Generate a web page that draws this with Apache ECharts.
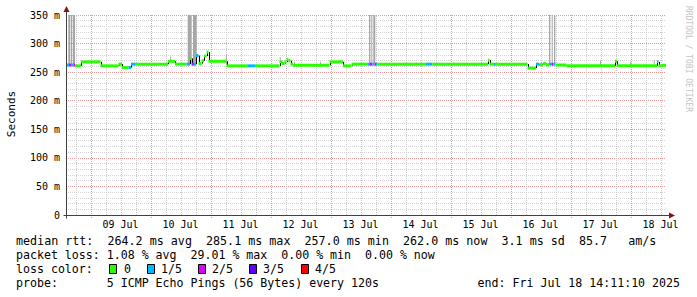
<!DOCTYPE html>
<html><head><meta charset="utf-8">
<script src="https://cdn.jsdelivr.net/npm/echarts@6/dist/echarts.min.js"></script>
<style>html,body{margin:0;padding:0;background:#fff}#c{width:697px;height:297px}</style>
</head><body><div id="c"></div>
<script>
// x values: hours since the window start (Fri Jul 08 14:11:10 2025); window = 240 h
const X_MIN = 0, X_MAX = 240;
const FIRST_MIDNIGHT = 9.81;           // 09 Jul 00:00
const dayLabels = ['09 Jul','10 Jul','11 Jul','12 Jul','13 Jul','14 Jul','15 Jul','16 Jul','17 Jul','18 Jul'];
const yTickValues = [0, 50, 100, 150, 200, 250, 300, 350];

// median rtt (ms) step segments: start hour, value, loss level (0..4 of 5)
const medStart = [0, 1.2, 2.0, 3.0, 3.6, 6.0, 13.8, 21.0, 22.4, 25.0, 26.0, 27.6, 40.8, 43.6, 48.2, 49.6, 50.2, 51.2, 52.0, 53.0, 54.2, 55.2, 56.2, 57.0, 64.2, 72.8, 75.6, 85.4, 86.4, 87.4, 88.2, 89.0, 89.8, 90.8, 105.4, 110.8, 114.2, 120.8, 121.6, 122.6, 123.4, 124.0, 124.6, 144.0, 146.6, 168.8, 169.4, 171.2, 171.6, 184.6, 188.0, 189.2, 190.8, 192.0, 193.2, 194.4, 195.0, 195.8, 200.2, 219.6, 220.4, 236.4, 237.0, 238.4];
const medValue = [262.5, 262.5, 262.5, 262.5, 261, 268, 261, 264, 258, 258, 264, 264, 269, 264, 264, 274, 264, 264, 279, 265, 270, 278, 285, 269, 261, 261, 261, 268, 265, 268, 272, 270, 264, 262, 268, 261, 264, 264, 264, 264, 264, 264, 264, 264, 264, 271, 264, 264, 264, 257, 264, 263, 265, 263, 264, 264, 264, 262.5, 261, 269, 261, 268, 261, 262];
const medLoss  = [1, 2, 1, 2, 0, 0, 0, 0, 0, 1, 1, 0, 0, 0, 1, 0, 2, 1, 1, 0, 0, 0, 0, 0, 0, 1, 0, 0, 0, 0, 0, 0, 0, 0, 0, 0, 0, 1, 2, 1, 2, 1, 0, 1, 0, 0, 0, 1, 0, 0, 1, 0, 0, 0, 1, 2, 1, 0, 0, 0, 0, 1, 0, 0];

// smoke (ping spread): start hour, end hour, low ms, high ms
const smokeStart = [0.92, 2.0, 2.68, 48.68, 50.8, 121.2, 122.12, 122.92, 193.2, 194.28, 195.2, 41.6, 64.0, 85.5, 91.2, 101.6, 136.0, 140.0, 154.7, 166.0, 183.2, 189.9, 213.6, 225.7, 235.1];
const smokeEnd   = [1.72, 2.32, 3.6, 50.28, 52.28, 121.72, 122.52, 123.72, 193.72, 194.68, 195.72, 42.0, 64.4, 85.9, 91.6, 102.0, 136.4, 140.4, 155.1, 166.4, 183.6, 190.3, 214.0, 226.1, 235.5];
const smokeLow   = [264, 264, 264, 266, 266, 266, 266, 266, 266, 266, 266, 268, 263, 266, 263, 263, 263, 263, 263, 263, 263, 263, 263, 263, 263];
const smokeHigh  = [350, 350, 350, 350, 350, 350, 350, 350, 350, 350, 350, 277, 281, 276, 268, 268, 267, 267, 267, 268, 266, 268, 270, 268, 271];

const LOSS_COLORS = ['#26ff00', '#00b8ff', '#dd00ff', '#5e00ff', '#ff0000'];
const lossLegend = ['0', '1/5', '2/5', '3/5', '4/5'];

const statsLine1 = 'median rtt:  264.2 ms avg  285.1 ms max  257.0 ms min  262.0 ms now  3.1 ms sd  85.7   am/s';
const statsLine2 = 'packet loss: 1.08 % avg  29.01 % max  0.00 % min  0.00 % now';
const probeLine = 'probe:       5 ICMP Echo Pings (56 Bytes) every 120s';
const endLine = 'end: Fri Jul 18 14:11:10 2025';

const labelPos = dayLabels.map((_, i) => FIRST_MIDNIGHT + 12 + 24 * i);
const vGrid = [];
for (let i = -1; i < 10; i++) for (const o of [0, 6, 12, 18]) {
  const v = FIRST_MIDNIGHT + 24 * i + o;
  if (v > X_MIN && v < X_MAX) vGrid.push([v, o === 0 ? 1 : 0]);
}

const medData = medStart.map((s, i) => [s, i + 1 < medStart.length ? medStart[i + 1] : X_MAX, medValue[i], medLoss[i], i > 0 ? medValue[i - 1] : medValue[i]]);
const smokeData = smokeStart.map((s, i) => [s, smokeEnd[i], smokeLow[i], smokeHigh[i]]);

const FONT = 'DejaVu Sans Mono';
const MAJOR = '#e89a9a', MINOR = '#c8c8c8';
const chart = echarts.init(document.getElementById('c'), null, {renderer: 'svg'});

const legendGraphics = [];
const boxX = [109, 147, 198, 249, 301];
const lblX = [124, 161, 212, 263, 315];
lossLegend.forEach((t, i) => {
  legendGraphics.push({type: 'rect', shape: {x: boxX[i] + 0.5, y: 264.5, width: 7, height: 9}, style: {fill: LOSS_COLORS[i], stroke: '#000', lineWidth: 1}});
  legendGraphics.push({type: 'text', x: lblX[i], y: 269, style: {text: t, font: '11.6px ' + FONT, fill: '#000', textVerticalAlign: 'middle'}});
});

chart.setOption({
  backgroundColor: '#fff',
  animation: false,
  grid: {left: 66, right: 31, top: 15, bottom: 82, containLabel: false},
  xAxis: {
    type: 'value', min: X_MIN, max: X_MAX,
    axisLine: {show: false}, axisTick: {show: false}, splitLine: {show: false},
    axisLabel: {
      customValues: labelPos, margin: 4,
      fontFamily: FONT, fontSize: 10, color: '#000',
      formatter: v => { const k = labelPos.findIndex(p => Math.abs(p - v) < 1e-6); return k >= 0 ? dayLabels[k] : ''; }
    }
  },
  yAxis: {
    type: 'value', min: 0, max: 350, interval: 50,
    axisLine: {show: false}, axisTick: {show: false},
    axisLabel: {margin: 6, fontFamily: FONT, fontSize: 10, color: '#000',
      formatter: v => (yTickValues.indexOf(v) >= 0 ? (v === 0 ? '0' : v + ' m') : '')},
    splitLine: {show: true, lineStyle: {color: MAJOR, type: [1, 1], width: 1}},
    minorTick: {show: false, splitNumber: 5},
    minorSplitLine: {show: true, lineStyle: {color: '#d4d4d4', type: [1, 1], width: 1}}
  },
  series: [
    {
      type: 'custom', z: 1, silent: true, data: vGrid, encode: {x: 0, y: 1},
      renderItem: (params, api) => {
        const major = api.value(1) === 1;
        const x = Math.round(api.coord([api.value(0), 0])[0]) + 0.5;
        const y0 = Math.round(api.coord([X_MIN, 0])[1]);
        const y1 = Math.round(api.coord([X_MIN, 350])[1]);
        return {type: 'line', shape: {x1: x, y1: y0 + (major ? 3 : 0), x2: x, y2: y1},
          style: {stroke: major ? MAJOR : MINOR, lineWidth: 1, lineDash: [1, 1]}};
      }
    },
    {
      type: 'custom', z: 3, silent: true, data: smokeData, encode: {x: [0, 1], y: [2, 3]},
      renderItem: (params, api) => {
        const a = api.coord([api.value(0), api.value(3)]);
        const b = api.coord([api.value(1), api.value(2)]);
        return {type: 'rect', shape: {x: a[0], y: a[1], width: Math.max(1, b[0] - a[0]), height: b[1] - a[1]}, style: {fill: '#a6a6a6'}};
      }
    },
    {
      type: 'custom', z: 4, silent: true, data: medData, encode: {x: [0, 1], y: 2},
      renderItem: (params, api) => {
        const s = api.value(0), e = api.value(1), v = api.value(2), loss = api.value(3), prev = api.value(4);
        const a = api.coord([s, v]), b = api.coord([e, v]);
        const ch = [];
        if (prev !== v) {
          const p = api.coord([s, prev]);
          const xx = Math.round(a[0]) + 0.5;
          ch.push({type: 'line', shape: {x1: xx, y1: p[1], x2: xx, y2: a[1]}, style: {stroke: '#000', lineWidth: 1}});
        }
        ch.push({type: 'rect', shape: {x: a[0], y: a[1] - 1.5, width: Math.max(1, b[0] - a[0]), height: 3}, style: {fill: LOSS_COLORS[loss]}});
        return {type: 'group', children: ch};
      }
    },
    {
      type: 'custom', z: 5, silent: true, data: [[X_MIN, 0]], encode: {x: 0, y: 1},
      renderItem: (params, api) => {
        const o = api.coord([X_MIN, 0]);
        const xe = api.coord([X_MAX, 0]);
        const yt = api.coord([X_MIN, 350]);
        const ox = Math.round(o[0]) + 0.5, oy = Math.round(o[1]) + 0.5;
        return {type: 'group', children: [
          {type: 'line', shape: {x1: ox - 3, y1: oy, x2: xe[0] + 4, y2: oy}, style: {stroke: '#404040', lineWidth: 1}},
          {type: 'line', shape: {x1: ox, y1: oy + 3, x2: ox, y2: yt[1] - 4}, style: {stroke: '#404040', lineWidth: 1}},
          {type: 'polygon', shape: {points: [[xe[0] + 3, oy - 3], [xe[0] + 9, oy], [xe[0] + 3, oy + 3]]}, style: {fill: '#8b1010'}},
          {type: 'polygon', shape: {points: [[ox - 3, yt[1] - 3], [ox, yt[1] - 9], [ox + 3, yt[1] - 3]]}, style: {fill: '#8b1010'}}
        ]};
      }
    }
  ],
  graphic: [
    {type: 'text', x: 11, y: 114, rotation: Math.PI / 2, style: {text: 'Seconds', font: '11px ' + FONT, fill: '#000', textAlign: 'center', textVerticalAlign: 'middle'}},
    {type: 'text', x: 688, y: 59, rotation: -Math.PI / 2, style: {text: 'RRDTOOL / TOBI OETIKER', font: '8px ' + FONT, fill: '#c4c4c4', textAlign: 'center', textVerticalAlign: 'middle'}},
    {type: 'text', x: 16, y: 241, style: {text: statsLine1, font: '11.7px ' + FONT, fill: '#000', textVerticalAlign: 'middle'}},
    {type: 'text', x: 16, y: 255, style: {text: statsLine2, font: '11.6px ' + FONT, fill: '#000', textVerticalAlign: 'middle'}},
    {type: 'text', x: 16, y: 269, style: {text: 'loss color:', font: '11.6px ' + FONT, fill: '#000', textVerticalAlign: 'middle'}},
    ...legendGraphics,
    {type: 'text', x: 16, y: 283, style: {text: probeLine, font: '11.6px ' + FONT, fill: '#000', textVerticalAlign: 'middle'}},
    {type: 'text', x: 680, y: 283, style: {text: endLine, font: '11.6px ' + FONT, fill: '#000', textAlign: 'right', textVerticalAlign: 'middle'}}
  ]
});
</script></body></html>
